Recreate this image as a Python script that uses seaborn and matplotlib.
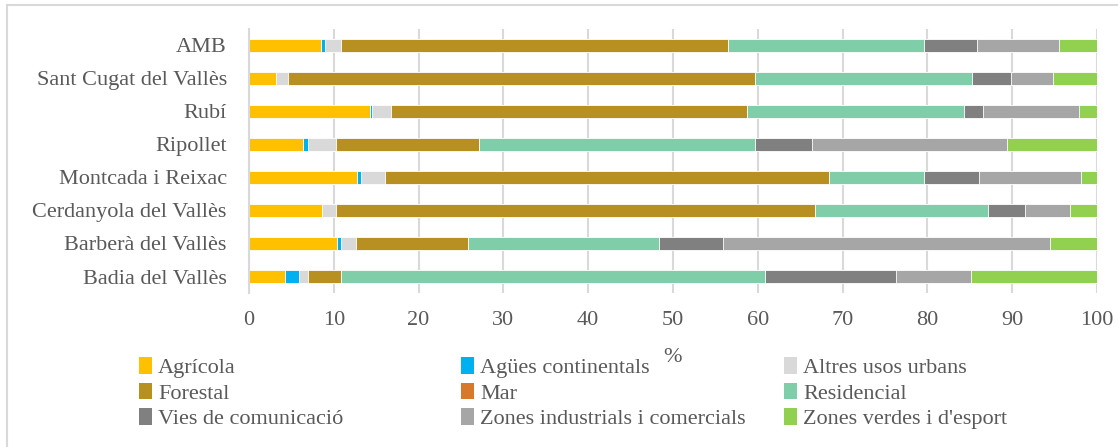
import numpy as np
import pandas as pd
import matplotlib
matplotlib.use("Agg")
import matplotlib.pyplot as plt
from matplotlib.patches import Patch
from matplotlib.lines import Line2D
import seaborn as sns

# municipis (de dalt a baix)
municipis = ['AMB', 'Sant Cugat del Vallès', 'Rubí', 'Ripollet', 'Montcada i Reixac',
             'Cerdanyola del Vallès', 'Barberà del Vallès', 'Badia del Vallès']

# % de superficie per us del sol
agricola = [8.5, 3.2, 14.3, 6.4, 12.7, 8.6, 10.4, 4.3]
agues = [0.5, 0.0, 0.2, 0.6, 0.5, 0.0, 0.4, 1.6]
altres = [1.8, 1.4, 2.3, 3.3, 2.8, 1.7, 1.8, 1.0]
forestal = [45.7, 55.1, 41.9, 16.8, 52.4, 56.5, 13.2, 4.0]
mar = [0, 0, 0, 0, 0, 0, 0, 0]
residencial = [23.1, 25.6, 25.6, 32.6, 11.2, 20.3, 22.5, 49.9]
vies = [6.3, 4.6, 2.2, 6.7, 6.5, 4.4, 7.6, 15.5]
industrials = [9.6, 4.9, 11.4, 23.0, 12.0, 5.3, 38.5, 8.8]
verdes = [4.5, 5.2, 2.1, 10.6, 1.9, 3.2, 5.6, 14.9]

usos = ['Agrícola', 'Agües continentals', 'Altres usos urbans', 'Forestal', 'Mar',
        'Residencial', 'Vies de comunicació', 'Zones industrials i comercials',
        "Zones verdes i d'esport"]
colors = ['#FFC000', '#00B0F0', '#D9D9D9', '#B88F21', '#D8782A',
          '#80CDA9', '#808080', '#A6A6A6', '#92D050']

df = pd.DataFrame({'municipi': municipis,
                   usos[0]: agricola, usos[1]: agues, usos[2]: altres,
                   usos[3]: forestal, usos[4]: mar, usos[5]: residencial,
                   usos[6]: vies, usos[7]: industrials, usos[8]: verdes})
cum = df[usos].cumsum(axis=1)
cum = cum.div(cum[usos[-1]], axis=0) * 100  # each bar to 100%
cum['municipi'] = df['municipi']

txt = '#595959'
plt.rcParams['font.family'] = ['Liberation Serif', 'DejaVu Serif']

fig = plt.figure(figsize=(11.18, 4.47), dpi=100)
ax = fig.add_axes([249/1118, 1-293/447, (1097-249)/1118, 264/447])

# stacked bars: draw the cumulative sums from the last one to the first
for u, c in reversed(list(zip(usos, colors))):
    sns.barplot(data=cum, x=u, y='municipi', color=c, width=0.4, ax=ax,
                orient='h', saturation=1, edgecolor='white', linewidth=0.6)

ax.set_xlim(0, 100)
ax.set_ylim(7.5, -0.5)
ax.set_xticks(np.arange(0, 101, 10))
ax.grid(axis='x', color='#D9D9D9', lw=1.5)
ax.set_axisbelow(True)
for s in ['top', 'right', 'bottom']:
    ax.spines[s].set_visible(False)
ax.spines['left'].set_color('#D9D9D9')
ax.spines['left'].set_linewidth(1.5)
ax.tick_params(axis='both', length=0, labelsize=16, labelcolor=txt)
ax.tick_params(axis='x', pad=13)
ax.tick_params(axis='y', pad=16)
ax.set_ylabel('')
ax.set_xlabel('%', fontsize=16, color=txt)
ax.xaxis.set_label_coords(0.5, -0.21)

# legend, 3 columns filled row by row
handles = [Patch(facecolor=c, edgecolor='none') for c in colors]
col_x = [139, 461, 784]
for i in range(3):
    idx = [i, i + 3, i + 6]
    leg = fig.legend([handles[j] for j in idx], [usos[j] for j in idx],
                     loc='upper left', bbox_to_anchor=(col_x[i]/1118, 1 - 357/447),
                     frameon=False, fontsize=16, handlelength=0.6, handleheight=0.78,
                     handletextpad=0.25, labelspacing=0.2, borderpad=0, borderaxespad=0)
    for t in leg.get_texts():
        t.set_color(txt)

# chart border (only top and left are in the picture)
fig.add_artist(Line2D([7/1118, 7/1118], [0, 1-5/447], color='#D9D9D9', lw=1.5))
fig.add_artist(Line2D([7/1118, 1], [1-5/447, 1-5/447], color='#D9D9D9', lw=1.5))

fig.savefig('out.png', dpi=100)
